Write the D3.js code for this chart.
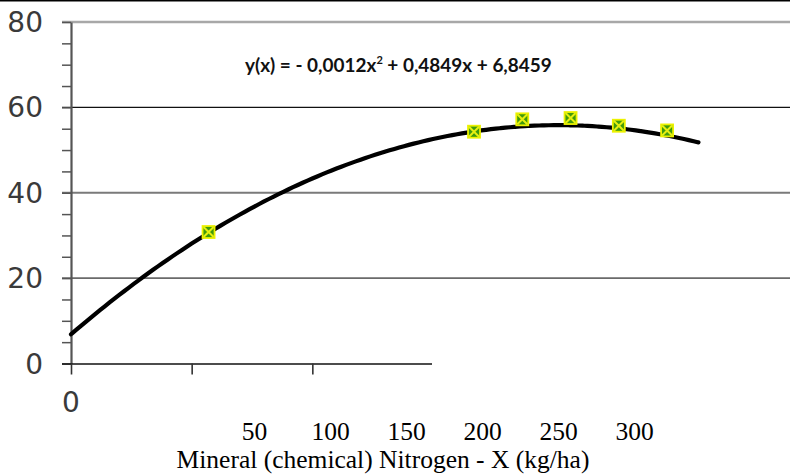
<!DOCTYPE html>
<html>
<head>
<meta charset="utf-8">
<script src="https://cdn.jsdelivr.net/npm/d3@7"></script>
<style>
  html, body { margin: 0; padding: 0; background: #fff; }
  svg { display: block; }
</style>
</head>
<body>
<svg id="chart" width="790" height="476"></svg>
<script>
// Yield response to mineral nitrogen with its fitted quadratic trend
const nitrogenRates = [57, 167, 187, 207, 227, 247];
const yields = [30.8, 54.3, 57.2, 57.5, 55.7, 54.6];
const trendCoeffs = [-0.0012, 0.4849, 6.8459];   // a, b, c in y = a·x² + b·x + c
const trendDomain = [0, 260];
const yTickValues = [0, 20, 40, 60, 80];
const yMinorStep = 5;
const xTickValues = [0, 50, 100];
const xLabelValues = [50, 100, 150, 200, 250, 300];
const xZeroLabel = "0";
const xTitle = "Mineral (chemical) Nitrogen - X (kg/ha)";
const eqParts = ["y(x) = - 0,0012x", "2", " + 0,4849x + 6,8459"];

const W = 790, H = 476;
const svg = d3.select("#chart");

const x = d3.scaleLinear().domain([0, 150]).range([71, 433]);
const y = d3.scaleLinear().domain([0, 80]).range([363.5, 22]);
const xLab = d3.scaleLinear().domain([50, 300]).range([254, 634]);

// frame line along the top edge
svg.append("line")
  .attr("x1", 0).attr("x2", W).attr("y1", 0.75).attr("y2", 0.75)
  .attr("stroke", "#000").attr("stroke-width", 1.5);

// horizontal gridlines
const gridStyle = {
  80: { c: "#a8a8a8", w: 2.6 },
  60: { c: "#111", w: 1.2 },
  40: { c: "#7a7a7a", w: 1.8 },
  20: { c: "#6a6a6a", w: 1.6 }
};
svg.append("g").selectAll("line")
  .data(yTickValues.filter(v => v > 0))
  .join("line")
  .attr("x1", 62).attr("x2", W)
  .attr("y1", d => y(d)).attr("y2", d => y(d))
  .attr("stroke", d => gridStyle[d].c)
  .attr("stroke-width", d => gridStyle[d].w);

// y axis: minor ticks every 5 units
const yAxis = svg.append("g")
  .attr("transform", `translate(${x(0)},0)`)
  .call(d3.axisLeft(y)
    .tickValues(d3.range(0, 80 + 1, yMinorStep))
    .tickSize(9).tickSizeOuter(0).tickFormat(""));
yAxis.select(".domain").attr("stroke", "#555").attr("stroke-width", 2.2);
yAxis.selectAll(".tick line").attr("stroke", "#555").attr("stroke-width", 1.5);

// x axis
const xAxis = svg.append("g")
  .attr("transform", `translate(0,${y(0)})`)
  .call(d3.axisBottom(x).tickValues(xTickValues).tickSize(11).tickSizeOuter(0).tickFormat(""));
xAxis.select(".domain").attr("d", `M62,0.5H${x(150) - 1}`).attr("stroke", "#111").attr("stroke-width", 1.5);
xAxis.selectAll(".tick line").attr("stroke", "#333").attr("stroke-width", 1.6);

// y tick labels
svg.append("g").selectAll("text")
  .data(yTickValues)
  .join("text")
  .attr("x", 43).attr("y", d => y(d) + 10)
  .attr("text-anchor", "end")
  .attr("font-family", "DejaVu Sans, sans-serif")
  .attr("font-size", 28)
  .attr("fill", "#3a3a3a")
  .text(d => d);

// x zero label under the axis
svg.append("text")
  .attr("x", x(0)).attr("y", 412)
  .attr("text-anchor", "middle")
  .attr("font-family", "DejaVu Sans, sans-serif")
  .attr("font-size", 28)
  .attr("fill", "#3a3a3a")
  .text(xZeroLabel);

// secondary x labels row
const xLabAxis = svg.append("g")
  .attr("transform", "translate(0,440)")
  .call(d3.axisBottom(xLab).tickValues(xLabelValues).tickSize(0).tickFormat(d => d));
xLabAxis.select(".domain").remove();
xLabAxis.selectAll(".tick text")
  .attr("y", 0).attr("dy", 0)
  .attr("font-family", "Liberation Serif, Times New Roman, serif")
  .attr("font-size", 25.5)
  .attr("fill", "#000");

// axis title
svg.append("text")
  .attr("x", 383).attr("y", 468)
  .attr("text-anchor", "middle")
  .attr("font-family", "Liberation Serif, Times New Roman, serif")
  .attr("font-size", 25.5)
  .attr("fill", "#000")
  .text(xTitle);

// trend curve from the fitted equation
const [a, b, c] = trendCoeffs;
const trendPts = d3.range(trendDomain[0], trendDomain[1] + 0.01, 2).map(v => [v, a * v * v + b * v + c]);
svg.append("path")
  .datum(trendPts)
  .attr("d", d3.line().x(d => x(d[0])).y(d => y(d[1])).curve(d3.curveBasis))
  .attr("fill", "none")
  .attr("stroke", "#000")
  .attr("stroke-width", 4.2)
  .attr("stroke-linecap", "round");

// observed points
const pts = nitrogenRates.map((n, i) => ({ n, v: yields[i] }));
const mk = svg.append("g").selectAll("g")
  .data(pts)
  .join("g")
  .attr("transform", d => `translate(${x(d.n)},${y(d.v)})`);
const s = 6;
mk.append("rect")
  .attr("x", -s).attr("y", -s).attr("width", 2 * s).attr("height", 2 * s)
  .attr("fill", "#3f9a0c").attr("stroke", "#ecf200").attr("stroke-width", 1.8);
mk.append("path")
  .attr("d", `M${-s + 1},${-s + 1}L${s - 1},${s - 1}M${s - 1},${-s + 1}L${-s + 1},${s - 1}`)
  .attr("stroke", "#e6ef10").attr("stroke-width", 2);

// equation label
const eq = svg.append("text")
  .attr("x", 245).attr("y", 72)
  .attr("font-family", "Lato, Open Sans, sans-serif")
  .attr("font-weight", "bold")
  .attr("font-size", 16)
  .attr("fill", "#111");
eq.append("tspan").text(eqParts[0]);
eq.append("tspan").attr("dy", -8).attr("font-size", 11).text(eqParts[1]);
eq.append("tspan").attr("dy", 8).text(eqParts[2]);
const eqW = eq.node().getBBox().width;
eq.attr("font-size", 16 * 308 / eqW);
</script>
</body>
</html>
